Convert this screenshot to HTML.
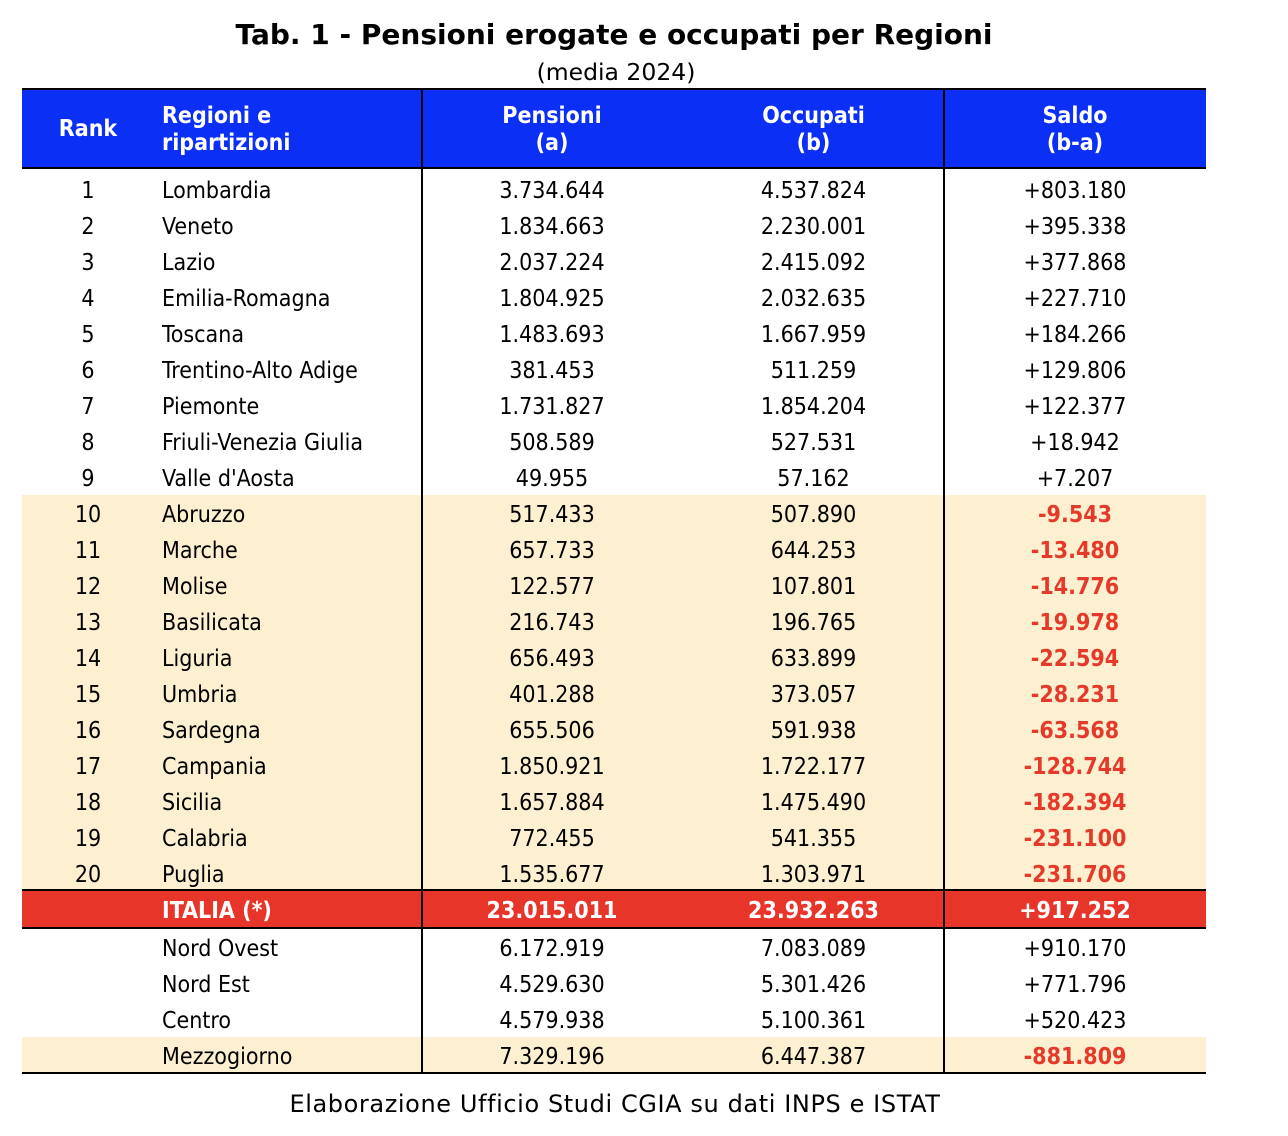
<!DOCTYPE html>
<html><head><meta charset="utf-8"><style>
body{margin:0;width:1288px;height:1136px;background:#fff;position:relative;font-family:"DejaVu Sans Condensed","DejaVu Sans","Liberation Sans",sans-serif;color:#000;overflow:hidden}
.a{position:absolute}
.t{position:absolute;font-size:23px;line-height:36px;white-space:nowrap}
.c{text-align:center}
.b{font-weight:bold}
</style></head><body>
<div class="a b c" style="left:0;width:1228px;top:18px;font-size:28px;font-family:'DejaVu Sans','Liberation Sans',sans-serif">Tab. 1 - Pensioni erogate e occupati per Regioni</div>
<div class="a c" style="left:0;width:1232px;top:58px;font-size:23.5px;font-family:'DejaVu Sans','Liberation Sans',sans-serif">(media 2024)</div>
<div class="a" style="left:22px;top:88px;width:1184px;height:81px;background:#0b2ff5;border-top:2px solid #000;border-bottom:2px solid #000;box-sizing:border-box"></div>
<div class="a b c" style="left:40px;width:96px;top:116px;color:#fff;font-size:23px">Rank</div>
<div class="a b" style="left:162px;top:103px;color:#fff;font-size:23px;line-height:27px">Regioni e<br>ripartizioni</div>
<div class="a b c" style="left:422px;width:260px;top:103px;color:#fff;font-size:23px;line-height:27px">Pensioni<br>(a)</div>
<div class="a b c" style="left:683px;width:261px;top:103px;color:#fff;font-size:23px;line-height:27px">Occupati<br>(b)</div>
<div class="a b c" style="left:944px;width:262px;top:103px;color:#fff;font-size:23px;line-height:27px">Saldo<br>(b-a)</div>
<div id="rows"></div>
<div class="a" style="left:22px;top:1072px;width:1184px;height:2px;background:#000"></div>
<div class="a" style="left:421px;top:88px;width:2px;height:986px;background:#000"></div>
<div class="a" style="left:943px;top:88px;width:2px;height:986px;background:#000"></div>
<div class="a c" style="left:0;width:1230px;top:1090px;font-size:24px;letter-spacing:0.6px;font-family:'DejaVu Sans','Liberation Sans',sans-serif">Elaborazione Ufficio Studi CGIA su dati INPS e ISTAT</div>
<script>
const ranks=["1","2","3","4","5","6","7","8","9","10","11","12","13","14","15","16","17","18","19","20","","","","",""];
const regions=["Lombardia","Veneto","Lazio","Emilia-Romagna","Toscana","Trentino-Alto Adige","Piemonte","Friuli-Venezia Giulia","Valle d'Aosta","Abruzzo","Marche","Molise","Basilicata","Liguria","Umbria","Sardegna","Campania","Sicilia","Calabria","Puglia","ITALIA (*)","Nord Ovest","Nord Est","Centro","Mezzogiorno"];
const pensioni=["3.734.644","1.834.663","2.037.224","1.804.925","1.483.693","381.453","1.731.827","508.589","49.955","517.433","657.733","122.577","216.743","656.493","401.288","655.506","1.850.921","1.657.884","772.455","1.535.677","23.015.011","6.172.919","4.529.630","4.579.938","7.329.196"];
const occupati=["4.537.824","2.230.001","2.415.092","2.032.635","1.667.959","511.259","1.854.204","527.531","57.162","507.890","644.253","107.801","196.765","633.899","373.057","591.938","1.722.177","1.475.490","541.355","1.303.971","23.932.263","7.083.089","5.301.426","5.100.361","6.447.387"];
const saldo=["+803.180","+395.338","+377.868","+227.710","+184.266","+129.806","+122.377","+18.942","+7.207","-9.543","-13.480","-14.776","-19.978","-22.594","-28.231","-63.568","-128.744","-182.394","-231.100","-231.706","+917.252","+910.170","+771.796","+520.423","-881.809"];
const root=document.getElementById('rows');
for(let i=0;i<regions.length;i++){
  let top,h=36;
  if(i<20) top=171+36*i;
  else if(i===20){top=890;h=38;}
  else top=929+36*(i-21);
  const neg=saldo[i].startsWith('-');
  const tot=i===20;
  const row=document.createElement('div');
  
  
  row.className='a';
  row.style.cssText=`left:22px;top:${top}px;width:1184px;height:${h}px;`+(tot?'background:#e8352a;border-top:2px solid #000;border-bottom:2px solid #000;top:'+(top-1)+'px;box-sizing:border-box;height:40px;':(neg?'background:#fcf0d1;':''));
  root.appendChild(row);
  const cells=[[ranks[i],18,96,'c'],[regions[i],140,260,''],[pensioni[i],400,260,'c'],[occupati[i],661,261,'c'],[saldo[i],922,262,'c']];
  const names=['rank','region','pensioni','occupati','saldo'];
  cells.forEach((c,j)=>{
    const d=document.createElement('div');
    
    
    d.className='t '+c[3]+(tot||(j===4&&neg)?' b':'');
    d.textContent=c[0];
    d.style.left=c[1]+'px';d.style.width=c[2]+'px';d.style.top='2px';
    if(tot)d.style.color='#fff';
    else if(j===4&&neg)d.style.color='#e53a2a';
    row.appendChild(d);
  });
}
</script>
</body></html>
